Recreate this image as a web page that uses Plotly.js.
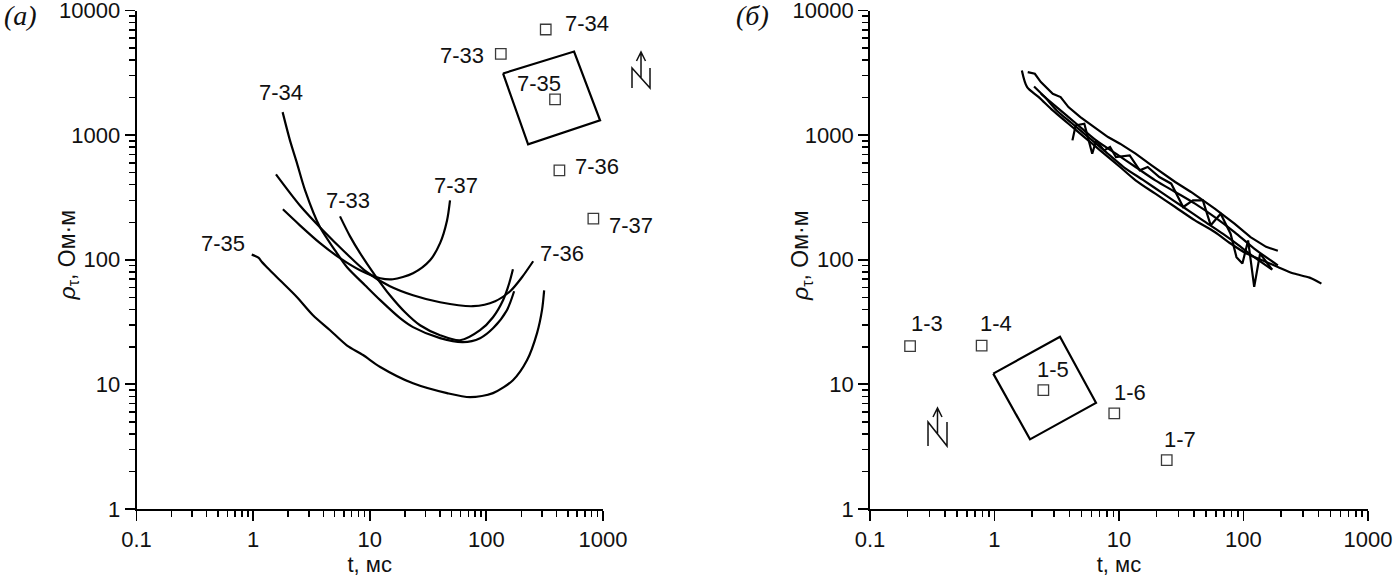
<!DOCTYPE html>
<html>
<head>
<meta charset="utf-8">
<script src="https://cdn.plot.ly/plotly-3.0.1.min.js"></script>
<style>html,body{margin:0;padding:0;background:#fff;}#chart{width:1400px;height:579px;}</style>
</head>
<body>
<div id="chart"></div>
<script>
// ---------- Panel (а): sounding curves ----------
const t_7_33 = [5.56, 6.78, 8.26, 11.1, 14.9, 20.1, 27.0, 40.1, 59.5, 88.3, 114, 139, 157, 169];
const rho_7_33 = [223, 154, 113, 75.1, 51.9, 37.9, 29.8, 24.8, 22.6, 27.2, 34.6, 47.4, 64.8, 83.9];
const t_7_34 = [1.79, 2.07, 2.38, 2.79, 3.75, 5.04, 6.39, 9.11, 12.3, 18.2, 23.5, 40.1, 63.1, 88.3, 114, 150, 173];
const rho_7_34 = [1530, 908, 594, 361, 182, 119, 87.1, 62.5, 47.4, 34.0, 28.8, 23.5, 21.8, 23.5, 28.2, 39.4, 55.9];
const t_7_35 = [0.973, 1.11, 1.19, 1.34, 1.70, 2.37, 3.26, 4.57, 6.35, 8.76, 12.3, 23.5, 46.0, 72.5, 114, 169, 223, 272, 300, 313];
const rho_7_35 = [110, 104, 96.0, 85.5, 68.5, 50.3, 35.9, 27.2, 20.6, 17.2, 13.8, 10.2, 8.51, 7.90, 8.51, 10.8, 15.6, 25.8, 39.4, 56.9];
const t_7_36 = [1.57, 2.52, 3.98, 6.14, 9.48, 14.9, 23.5, 40.1, 76.9, 119, 160, 202, 252];
const rho_7_36 = [485, 273, 172, 115, 79.4, 61.3, 51.9, 45.6, 42.4, 46.5, 55.9, 72.4, 97.3];
const t_7_37 = [1.80, 2.52, 3.75, 5.56, 8.26, 12.3, 15.8, 23.5, 32.9, 40.1, 46.0, 48.8];
const rho_7_37 = [254, 189, 136, 103, 82.4, 71.1, 69.8, 78.0, 99.1, 136, 207, 300];

const curveNamesA = ['7-33', '7-34', '7-35', '7-36', '7-37'];
const curveLabelT_A = [6.55, 1.73, 0.550, 443, 54.7];
const curveLabelRho_A = [300, 2182, 135, 112, 396];

// stations of panel (а) (scheme drawn in the same axes)
const stationsA = ['7-33', '7-34', '7-35', '7-36', '7-37'];
const stationT_A = [133, 323, 388, 423, 827];
const stationRho_A = [4496, 7042, 1934, 522, 214];
const stationLabelT_A = [61.5, 726, 283, 890, 1735];
const stationLabelRho_A = [4358, 7823, 2585, 562, 189];
const loopT_A = [139, 565, 944, 228, 139];
const loopRho_A = [3126, 4692, 1313, 843, 3126];

// ---------- Panel (б): sounding curves ----------
const t_b1 = [1.85, 2.11, 2.36, 2.94, 3.40, 3.93, 4.90, 6.56, 8.17, 10.2, 13.6, 18.3, 22.7, 28.3, 37.9, 47.2, 58.8, 84.7, 114, 152, 189];
const rho_b1 = [3204, 3108, 2664, 2148, 2020, 1680, 1396, 1126, 965, 854, 710, 572, 491, 421, 350, 300, 257, 195, 152, 127, 118];
const t_b2 = [1.66, 1.83, 2.27, 2.94, 3.93, 5.27, 7.06, 10.2, 13.6, 19.6, 28.3, 40.8, 58.8, 78.8, 106, 152, 189, 254, 340, 423];
const rho_b2 = [3304, 2429, 2020, 1579, 1235, 965, 755, 555, 434, 339, 265, 207, 167, 135, 112, 96.1, 87.6, 77.5, 71.9, 64.4];
const t_b3 = [2.08, 2.54, 3.16, 4.23, 5.67, 7.59, 10.9, 15.8, 22.7, 32.8, 47.2, 68.1, 91.2, 122, 170];
const rho_b3 = [2459, 2020, 1579, 1235, 965, 755, 555, 434, 339, 265, 207, 162, 131, 105, 83.4];
const t_b4 = [2.36, 3.16, 4.55, 6.56, 9.46, 13.6, 19.6, 28.3, 40.8, 58.8, 84.7, 122, 189];
const rho_b4 = [2148, 1680, 1235, 908, 710, 555, 434, 350, 282, 220, 167, 123, 90.3];
const t_b5 = [4.23, 4.49, 5.27, 6.10, 6.56, 7.59, 8.48, 9.46, 12.2, 14.7, 17.0, 21.1, 26.3, 32.8, 39.3, 47.2, 54.6, 65.6, 78.8, 87.9, 98.1, 109, 122, 136, 170];
const rho_b5 = [908, 1197, 1235, 710, 908, 755, 803, 667, 688, 522, 555, 461, 408, 265, 300, 300, 189, 234, 162, 105, 93.2, 143, 60.6, 112, 83.4];

const stationsB = ['1-3', '1-4', '1-5', '1-6', '1-7'];
const stationT_B = [0.210, 0.789, 2.47, 9.17, 24.2];
const stationRho_B = [20.3, 20.5, 8.99, 5.85, 2.47];
const stationLabelT_B = [0.285, 1.03, 2.98, 12.3, 30.9];
const stationLabelRho_B = [31.0, 31.0, 13.2, 8.67, 3.64];
const loopT_B = [0.978, 3.36, 6.54, 1.93, 0.978];
const loopRho_B = [12.2, 24.1, 7.11, 3.62, 12.2];

const xTicks = [0.1, 1, 10, 100, 1000];
const xTickText = ['0.1', '1', '10', '100', '1000'];
const yTicks = [1, 10, 100, 1000, 10000];
const yTickText = ['1', '10', '100', '1000', '10000'];
const xTitle = 't, мс';
const yTitle = '<i>ρ</i><sub>τ</sub>, Ом·м';

// ---------- build ----------
const W = 1400, H = 579;
const XRANGE = [-1, 3], YRANGE = [0, 4];
const domA = [0.0975, 0.4307], domB = [0.6214, 0.9771], domY = [0.1209, 0.9818];

function minorVals(lo, hi) {
  const out = [];
  for (let d = lo; d < hi; d++) for (let k = 2; k <= 9; k++) out.push(k * Math.pow(10, d));
  return out;
}
const FONT = 'Liberation Sans, Arial, sans-serif';
const FS = 22;
const LBL = {family: FONT, size: FS, color: '#111'};
const traces = [];
function curve(x, y, xa, ya, shape) {
  traces.push({x: x, y: y, xaxis: xa, yaxis: ya, type: 'scatter', mode: 'lines',
    line: {color: '#000', width: 2.2, shape: shape || 'spline', smoothing: 0.8}, hoverinfo: 'skip'});
}
curve(t_7_33, rho_7_33, 'x', 'y');
curve(t_7_34, rho_7_34, 'x', 'y');
curve(t_7_35, rho_7_35, 'x', 'y');
curve(t_7_36, rho_7_36, 'x', 'y');
curve(t_7_37, rho_7_37, 'x', 'y');
curve(loopT_A, loopRho_A, 'x', 'y', 'linear');
curve(t_b1, rho_b1, 'x2', 'y2', 'linear');
curve(t_b2, rho_b2, 'x2', 'y2');
curve(t_b3, rho_b3, 'x2', 'y2');
curve(t_b4, rho_b4, 'x2', 'y2');
curve(t_b5, rho_b5, 'x2', 'y2', 'linear');
curve(loopT_B, loopRho_B, 'x2', 'y2', 'linear');

function squares(x, y, xa, ya) {
  traces.push({x: x, y: y, xaxis: xa, yaxis: ya, type: 'scatter', mode: 'markers', cliponaxis: false,
    marker: {symbol: 'square-open', size: 10.5, color: '#3a3a3a', line: {width: 1.3, color: '#3a3a3a'}}, hoverinfo: 'skip'});
}
squares(stationT_A, stationRho_A, 'x', 'y');
squares(stationT_B, stationRho_B, 'x2', 'y2');

// text labels as annotations; a label beyond the axis end is pinned to the end and shifted by the axis scale
const annotations = [];
function labels(ts, rs, txt, xref, yref, dom) {
  const pxPerDecade = (dom[1] - dom[0]) * W / (XRANGE[1] - XRANGE[0]);
  for (let i = 0; i < ts.length; i++) {
    const lx = Math.log10(ts[i]);
    const cx = Math.min(Math.max(lx, XRANGE[0]), XRANGE[1]);
    annotations.push({xref: xref, yref: yref, x: cx, y: Math.log10(rs[i]), text: txt[i], showarrow: false,
      xanchor: 'center', yanchor: 'middle', xshift: (lx - cx) * pxPerDecade, font: LBL});
  }
}
labels(curveLabelT_A, curveLabelRho_A, curveNamesA, 'x', 'y', domA);
labels(stationLabelT_A, stationLabelRho_A, stationsA, 'x', 'y', domA);
labels(stationLabelT_B, stationLabelRho_B, stationsB, 'x2', 'y2', domB);

function xAxis(domain, anchor) {
  return {type: 'log', range: XRANGE, domain: domain, anchor: anchor,
    showline: true, linecolor: '#000', linewidth: 1.8, mirror: false,
    ticks: 'outside', ticklen: 10, tickwidth: 1.8, tickcolor: '#000', ticklabeloverflow: 'allow',
    tickmode: 'array', tickvals: xTicks, ticktext: xTickText,
    minor: {tickmode: 'array', tickvals: minorVals(-1, 3), ticks: 'outside', ticklen: 6, tickwidth: 1.5, tickcolor: '#000', showgrid: false},
    showgrid: false, zeroline: false, tickfont: {family: FONT, size: FS, color: '#111'},
    title: {text: xTitle, font: {family: FONT, size: FS, color: '#111'}, standoff: 2}};
}
function yAxis(domain, anchor) {
  return {type: 'log', range: YRANGE, domain: domain, anchor: anchor,
    showline: true, linecolor: '#000', linewidth: 1.8, mirror: false,
    ticks: 'outside', ticklen: 10, tickwidth: 1.8, tickcolor: '#000', ticklabeloverflow: 'allow',
    tickmode: 'array', tickvals: yTicks, ticktext: yTickText,
    minor: {tickmode: 'array', tickvals: minorVals(0, 4), ticks: 'outside', ticklen: 6, tickwidth: 1.5, tickcolor: '#000', showgrid: false},
    showgrid: false, zeroline: false, tickfont: {family: FONT, size: FS, color: '#111'}};
}

// y titles (rotated), placed left of each y axis
[domA, domB].forEach(function (d) {
  annotations.push({xref: 'paper', yref: 'paper', x: d[0] - 69 / W, y: 1 - 255 / H, text: yTitle, textangle: -90,
    showarrow: false, xanchor: 'center', yanchor: 'middle', font: {family: FONT, size: FS + 1, color: '#111'}});
});
annotations.push({text: '<i>(а)</i>', xref: 'paper', yref: 'paper', x: 20 / W, y: 1 - 16 / H, xanchor: 'center', yanchor: 'middle', showarrow: false,
  font: {family: 'Liberation Serif, DejaVu Serif, serif', size: 28, color: '#111'}});
annotations.push({text: '<i>(б)</i>', xref: 'paper', yref: 'paper', x: 752 / W, y: 1 - 16 / H, xanchor: 'center', yanchor: 'middle', showarrow: false,
  font: {family: 'Liberation Serif, DejaVu Serif, serif', size: 28, color: '#111'}});

// north arrows (decoration, in pixel units of the canvas)
function px(x) { return (x / W).toFixed(5); }
function py(y) { return (1 - y / H).toFixed(5); }
function northArrow(l, r, top, bot, tip) {
  const mid = (l + r) / 2;
  const dY = top + (bot - top) * 0.5;
  const p = 'M ' + px(l) + ' ' + py(bot) + ' L ' + px(l) + ' ' + py(top) + ' L ' + px(r) + ' ' + py(bot) + ' L ' + px(r) + ' ' + py(top) +
    ' M ' + px(mid) + ' ' + py(dY) + ' L ' + px(mid) + ' ' + py(tip) +
    ' M ' + px(mid - 4.5) + ' ' + py(tip + 9) + ' L ' + px(mid) + ' ' + py(tip) + ' L ' + px(mid + 4.5) + ' ' + py(tip + 9);
  return {type: 'path', xref: 'paper', yref: 'paper', path: p, line: {color: '#111', width: 1.5}};
}

const layout = {
  width: W, height: H, margin: {l: 0, r: 0, t: 0, b: 0},
  paper_bgcolor: '#fff', plot_bgcolor: '#fff', showlegend: false,
  font: {family: FONT, size: FS, color: '#111'},
  xaxis: xAxis(domA, 'y'),
  yaxis: yAxis(domY, 'x'),
  xaxis2: xAxis(domB, 'y2'),
  yaxis2: yAxis(domY, 'x2'),
  shapes: [northArrow(632, 650, 68, 88, 52), northArrow(928, 947, 422, 446, 408)],
  annotations: annotations
};
Plotly.newPlot('chart', traces, layout, {staticPlot: true, displayModeBar: false});
</script>
</body>
</html>
